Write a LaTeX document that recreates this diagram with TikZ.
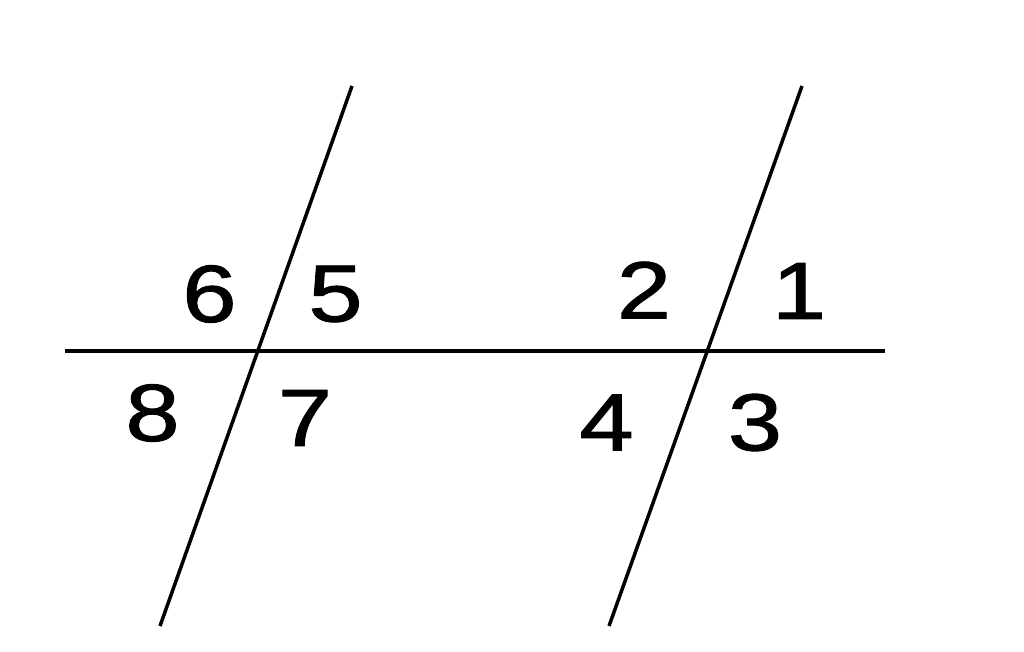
\documentclass[tikz,border=0pt]{standalone}
\usepackage{fontspec}
\setmainfont{Liberation Sans}
\newfontfamily\digitfont[FakeBold=1.2]{Liberation Sans}
\begin{document}
\begin{tikzpicture}[x=1pt,y=-1pt,
  digit/.style={inner sep=0pt,font=\digitfont\fontsize{81}{81}\selectfont,xscale=1.2,anchor=center},
  trans/.style={line width=3.5pt},
  base/.style={line width=4pt}]
\useasboundingbox (0,0) rectangle (1024,651);
\coordinate (hl) at (65,351);
\coordinate (hr) at (885,351);
\coordinate (at) at (352,86);
\coordinate (ab) at (160,626);
\coordinate (bt) at (802,86);
\coordinate (bb) at (609,626);
\draw[base] (hl) -- (hr);
\draw[trans] (at) -- (ab);
\draw[trans] (bt) -- (bb);
\node[digit] (n6) at (209.5,294) {6};
\node[digit] (n5) at (335.5,294) {5};
\node[digit] (n8) at (152.5,413) {8};
\node[digit] (n7) at (305,418) {7};
\node[digit] (n2) at (644,290) {2};
\node[digit] (n1) at (799,291) {1};
\node[digit] (n4) at (606.5,422.5) {4};
\node[digit] (n3) at (755,422.5) {3};
\end{tikzpicture}
\end{document}
